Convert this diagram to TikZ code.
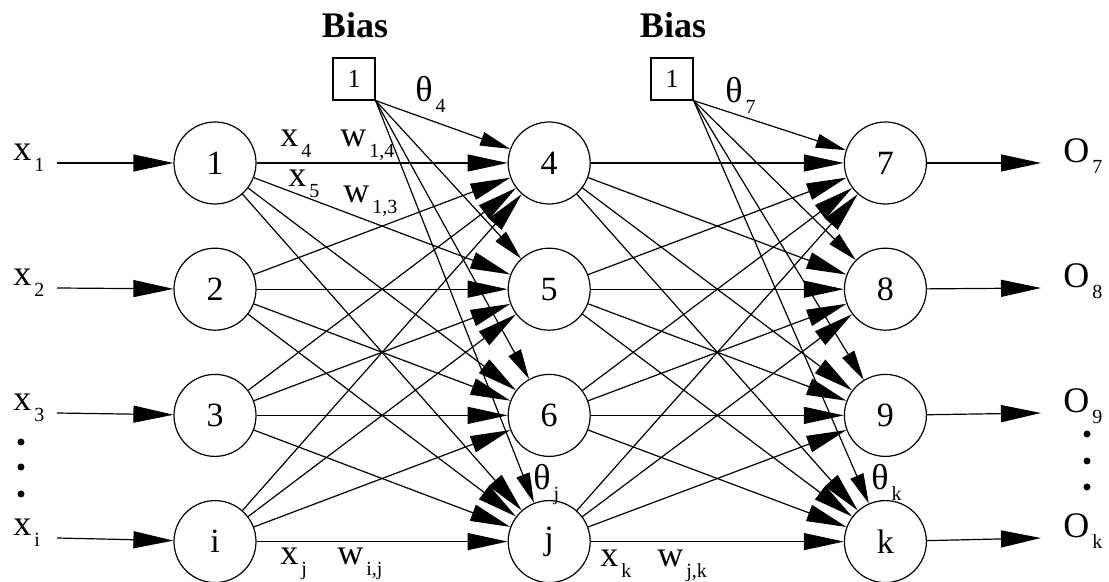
\documentclass[tikz,border=0pt]{standalone}
\usepackage{fontspec}
\setmainfont{Liberation Serif}
\usetikzlibrary{arrows.meta,positioning}
\tikzset{
  neuron/.style={circle,draw,line width=0.6pt,minimum size=41pt,inner sep=0pt,font=\fontsize{17}{17}\selectfont},
  biasbox/.style={draw,line width=0.6pt,minimum size=21pt,inner sep=0pt,font=\fontsize{13}{13}\selectfont},
  lbl/.style={inner sep=0pt,anchor=base west,font=\fontsize{18}{18}\selectfont},
  head/.style={inner sep=0pt,anchor=base,font=\bfseries\fontsize{18}{18}\selectfont},
  dot/.style={circle,fill,inner sep=0pt,minimum size=3.5pt},
  arr/.style={-{Triangle[length=20pt,width=8.5pt]},line width=0.6pt},
  barr/.style={-{Triangle[length=15pt,width=7pt]},line width=0.6pt},
}
\newcommand{\lsub}[1]{\kern1.5pt\raisebox{-5.5pt}{\fontsize{10}{10}\selectfont #1}}

\begin{document}
\begin{tikzpicture}[x=0.5pt,y=-0.5pt]
  \useasboundingbox (0,0) rectangle (1109,582);
  % neurons
  \node[neuron] (n1) at (215,163) {1};
  \node[neuron,below=21.5pt of n1] (n2) {2};
  \node[neuron,below=21.5pt of n2] (n3) {3};
  \node[neuron,below=21.5pt of n3] (ni) {i};
  \node[neuron,right=125.5pt of n1] (n4) {4};
  \node[neuron,below=21.5pt of n4] (n5) {5};
  \node[neuron,below=21.5pt of n5] (n6) {6};
  \node[neuron,below=21.5pt of n6] (nj) {j};
  \node[neuron,right=126.5pt of n4] (n7) {7};
  \node[neuron,below=21.5pt of n7] (n8) {8};
  \node[neuron,below=21.5pt of n8] (n9) {9};
  \node[neuron,below=21.5pt of n9] (nk) {k};
  % bias
  \node[biasbox] (b1) at (354,79) {1};
  \node[biasbox] (b2) at (672,79) {1};
  \node[head] (bias1) at (355,38) {Bias};
  \node[head] (bias2) at (673,38) {Bias};
  % inputs and outputs
  \coordinate (s1) at (57,163);  \coordinate (s2) at (57,288);
  \coordinate (s3) at (57,413);  \coordinate (si) at (57,538);
  \coordinate (e7) at (1041,163); \coordinate (e8) at (1041,288);
  \coordinate (e9) at (1041,413); \coordinate (ek) at (1041,538);
  \foreach \a in {1,2,3,i} \draw[arr] (s\a) -- (n\a);
  \foreach \a in {7,8,9,k} \draw[arr] (n\a) -- (e\a);
  % weights
  \foreach \a in {1,2,3,i} \foreach \b in {4,5,6,j} \draw[arr] (n\a) -- (n\b);
  \foreach \a in {4,5,6,j} \foreach \b in {7,8,9,k} \draw[arr] (n\a) -- (n\b);
  \foreach \b in {4,5,6,j} \draw[barr] (b1.south east) -- (n\b);
  \foreach \b in {7,8,9,k} \draw[barr] (b2.south east) -- (n\b);
  % labels
  \node[lbl] (lx1) at (13,161) {x\lsub{1}};
  \node[lbl] (lx2) at (13,286) {x\lsub{2}};
  \node[lbl] (lx3) at (13,411) {x\lsub{3}};
  \node[lbl] (lxi) at (13,536) {x\lsub{i}};
  \node[lbl] (lo7) at (1063,163) {O\lsub{7}};
  \node[lbl] (lo8) at (1063,288) {O\lsub{8}};
  \node[lbl] (lo9) at (1063,413) {O\lsub{9}};
  \node[lbl] (lok) at (1063,538) {O\lsub{k}};
  \node[lbl] (lx4) at (280,147) {x\lsub{4}};
  \node[lbl] (lw14) at (340,147) {w\lsub{1,4}};
  \node[lbl] (lx5) at (288,187) {x\lsub{5}};
  \node[lbl] (lw13) at (343,203) {w\lsub{1,3}};
  \node[lbl] (lt4) at (415,102) {θ\lsub{4}};
  \node[lbl] (lt7) at (725,103) {θ\lsub{7}};
  \node[lbl] (ltj) at (533,490) {θ\lsub{j}};
  \node[lbl] (ltk) at (871,490) {θ\lsub{k}};
  \node[lbl] (lxj) at (280,565) {x\lsub{j}};
  \node[lbl] (lwij) at (337,565) {w\lsub{i,j}};
  \node[lbl] (lxk) at (600,567) {x\lsub{k}};
  \node[lbl] (lwjk) at (657,567) {w\lsub{j,k}};
  % dots
  \node[dot] (d1) at (21,442) {}; \node[dot] (d2) at (21,467) {}; \node[dot] (d3) at (21,494) {};
  \node[dot] (d4) at (1087,434) {}; \node[dot] (d5) at (1087,461) {}; \node[dot] (d6) at (1087,487) {};
\end{tikzpicture}
\end{document}
